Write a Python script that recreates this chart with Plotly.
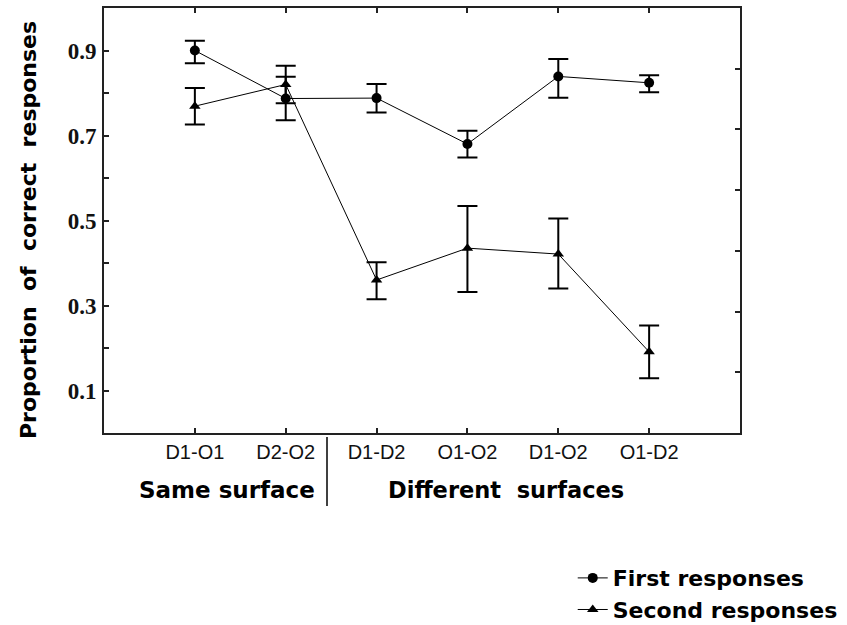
import plotly.graph_objects as go

categories = ["D1-O1", "D2-O2", "D1-D2", "O1-O2", "D1-O2", "O1-D2"]
first_vals = [0.900, 0.787, 0.788, 0.680, 0.839, 0.824]
first_plus = [0.023, 0.051, 0.033, 0.031, 0.041, 0.018]
first_minus = [0.030, 0.051, 0.034, 0.032, 0.050, 0.022]
second_vals = [0.769, 0.820, 0.360, 0.435, 0.421, 0.191]
second_plus = [0.043, 0.044, 0.042, 0.099, 0.084, 0.062]
second_minus = [0.043, 0.044, 0.045, 0.103, 0.081, 0.062]
ytick_vals = [0.1, 0.2, 0.3, 0.4, 0.5, 0.6, 0.7, 0.8, 0.9]
ytick_text = ["0.1", "", "0.3", "", "0.5", "", "0.7", "", "0.9"]
right_ticks = [1, 2, 3, 4, 5, 6]

fig = go.Figure()
fig.add_trace(go.Scatter(
    x=categories, y=first_vals, mode="lines+markers", name="First responses",
    line=dict(color="black", width=1),
    marker=dict(symbol="circle", size=10, color="black"),
    error_y=dict(type="data", symmetric=False, array=first_plus, arrayminus=first_minus,
                 color="black", thickness=2, width=10),
))
fig.add_trace(go.Scatter(
    x=categories, y=second_vals, mode="lines+markers", name="Second responses",
    line=dict(color="black", width=1),
    marker=dict(symbol="triangle-up", size=10, color="black"),
    error_y=dict(type="data", symmetric=False, array=second_plus, arrayminus=second_minus,
                 color="black", thickness=2, width=10),
))
fig.add_trace(go.Scatter(x=[categories[0]], y=[None], yaxis="y2", showlegend=False,
                         hoverinfo="skip", mode="markers"))

fig.update_layout(
    width=847, height=625,
    margin=dict(l=104, r=107, t=8, b=192, autoexpand=False),
    paper_bgcolor="white", plot_bgcolor="white",
    showlegend=True,
    legend=dict(x=0.737, y=-0.292, xanchor="left", yanchor="top",
                font=dict(family="DejaVu Sans", size=22, color="black", weight="bold"),
                tracegroupgap=0, itemwidth=30, bgcolor="rgba(0,0,0,0)"),
    xaxis=dict(type="category", categoryorder="array", categoryarray=categories,
               range=[-1, 6], showgrid=False, zeroline=False,
               showline=True, linecolor="#222", linewidth=2, mirror="ticks",
               ticks="inside", ticklen=5, tickwidth=1.5, tickcolor="#222",
               tickfont=dict(family="Liberation Sans", size=20, color="#111")),
    yaxis=dict(range=[0, 1], showgrid=False, zeroline=False,
               showline=True, linecolor="#222", linewidth=2, mirror=True,
               ticks="inside", ticklen=5, tickwidth=1.5, tickcolor="#222",
               tickvals=ytick_vals, ticktext=ytick_text, ticklabelstandoff=1,
               tickfont=dict(family="Liberation Serif", size=23, color="#111", weight="bold")),
    yaxis2=dict(range=[0, 7], overlaying="y", side="right", showgrid=False, zeroline=False,
                showline=False, ticks="inside", ticklen=5, tickwidth=1.5, tickcolor="#222",
                tickvals=right_ticks, showticklabels=False),
)

fig.add_annotation(text="Proportion  of  correct  responses", xref="paper", yref="paper",
                   x=(28 - 104) / 636, y=(433 - 230) / 425, textangle=-90, showarrow=False,
                   xanchor="center", yanchor="middle",
                   font=dict(family="DejaVu Sans", size=22, color="black", weight="bold"))
fig.add_annotation(text="Same surface", xref="paper", yref="paper",
                   x=(317 - 104) / 636, y=(433 - 490) / 425, xanchor="right", yanchor="middle",
                   showarrow=False,
                   font=dict(family="DejaVu Sans", size=23, color="black", weight="bold"))
fig.add_annotation(text="Different  surfaces", xref="paper", yref="paper",
                   x=(506 - 104) / 636, y=(433 - 490) / 425, xanchor="center", yanchor="middle",
                   showarrow=False,
                   font=dict(family="DejaVu Sans", size=22.5, color="black", weight="bold"))
fig.add_shape(type="line", xref="paper", yref="paper",
              x0=(327 - 104) / 636, x1=(327 - 104) / 636,
              y0=(433 - 437) / 425, y1=(433 - 506) / 425,
              line=dict(color="black", width=1.5))

fig.write_html("out.html", config={"displayModeBar": False},
               post_script="document.body.style.margin='0';")
